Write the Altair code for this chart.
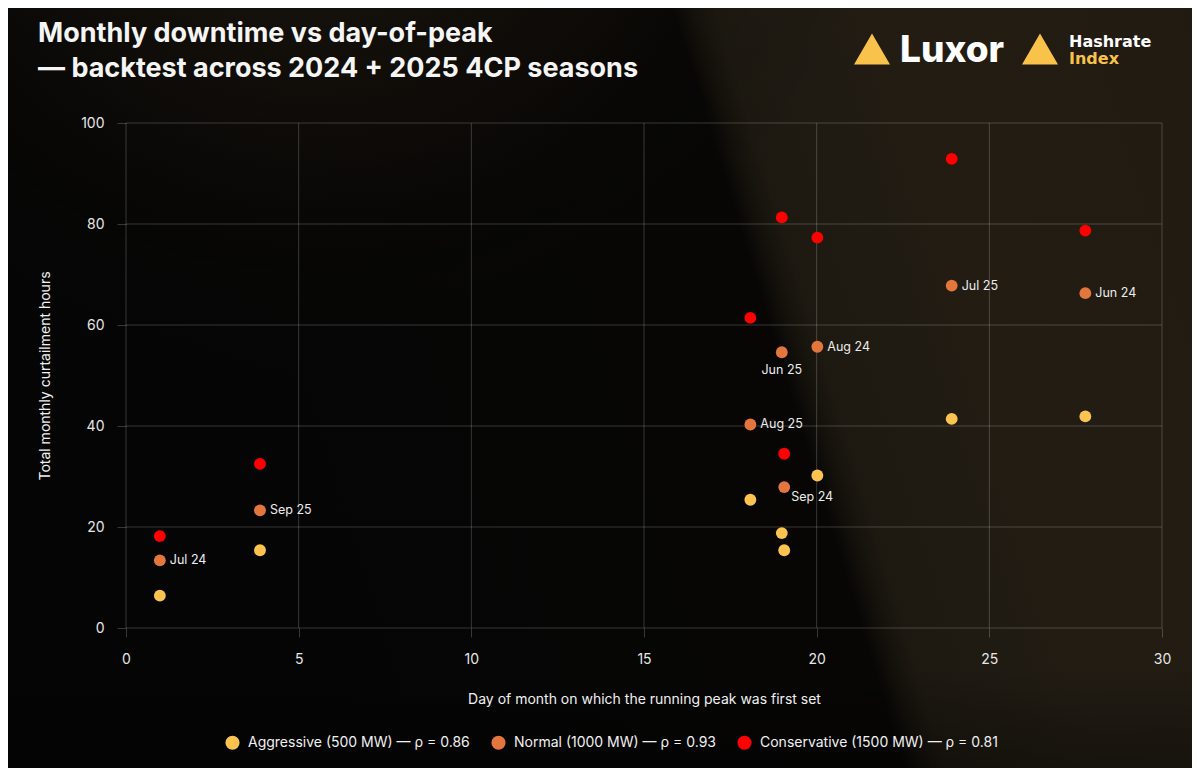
import altair as alt
import pandas as pd

# ---------------- data ----------------
months = ["Jun 24", "Jul 24", "Aug 24", "Sep 24", "Jun 25", "Jul 25", "Aug 25", "Sep 25"]
peak_day = [27.78, 0.98, 20.02, 19.06, 18.99, 23.91, 18.08, 3.88]
aggressive = [41.9, 6.4, 30.2, 15.4, 18.8, 41.4, 25.4, 15.4]
normal = [66.3, 13.4, 55.7, 27.9, 54.6, 67.8, 40.3, 23.3]
conservative = [78.7, 18.2, 77.3, 34.5, 81.3, 92.9, 61.4, 32.5]

series_names = [
    "Aggressive (500 MW) — ρ = 0.86",
    "Normal (1000 MW) — ρ = 0.93",
    "Conservative (1500 MW) — ρ = 0.81",
]
series_colors = ["#fcc44e", "#e3763c", "#fe0000"]

x_ticks = [0, 5, 10, 15, 20, 25, 30]
y_ticks = [0, 20, 40, 60, 80, 100]

title_lines = ["Monthly downtime vs day-of-peak", "— backtest across 2024 + 2025 4CP seasons"]
x_title = "Day of month on which the running peak was first set"
y_title = "Total monthly curtailment hours"

rows = []
for name, vals in zip(series_names, [aggressive, normal, conservative]):
    for m, d, v in zip(months, peak_day, vals):
        rows.append({"month": m, "day": d, "hours": v, "series": name})
df = pd.DataFrame(rows)
labels_df = df[df["series"] == series_names[1]]

W, H = 1036, 505
FONT = "Inter"
GRID = "rgba(255,255,255,0.2)"

xs = alt.Scale(domain=[0, 30], nice=False)
ys = alt.Scale(domain=[0, 100], nice=False)
one = pd.DataFrame({"k": [0]})

x_axis = alt.Axis(
    values=x_ticks, grid=False, domain=False, ticks=True, tickSize=9, tickColor=GRID,
    labelColor="#e6e6e6", labelFontSize=14, labelFont=FONT, labelPadding=15, labelFlush=False,
    title=x_title, titleColor="#f0f0f0", titleFontSize=14, titleFont=FONT, titleFontWeight="normal",
    titleX=W / 2, titleY=71, titleBaseline="middle", titleAlign="center", zindex=1,
)
y_axis = alt.Axis(
    values=y_ticks, grid=False, domain=False, ticks=True, tickSize=9, tickColor=GRID,
    labelColor="#e6e6e6", labelFontSize=14, labelFont=FONT, labelPadding=13, labelFlush=False,
    title=y_title, titleColor="#f0f0f0", titleFontSize=14, titleFont=FONT, titleFontWeight="normal",
    titleX=-81, titleY=H / 2, titleAngle=-90, titleBaseline="middle", titleAlign="center", zindex=1,
)

# ---------------- background ----------------
FULL = dict(x=alt.value(-120), x2=alt.value(1070), y=alt.value(-117), y2=alt.value(650))
bg = alt.Chart(one).mark_rect(
    fill=alt.LinearGradient(
        gradient="linear",
        x1=0.183, y1=0.596, x2=1.163, y2=0.404,
        stops=[
            alt.GradientStop(color="#050505", offset=0),
            alt.GradientStop(color="#070605", offset=0.485),
            alt.GradientStop(color="#13100b", offset=0.5),
            alt.GradientStop(color="#1d1911", offset=0.52),
            alt.GradientStop(color="#221c13", offset=0.65),
            alt.GradientStop(color="#211b12", offset=0.9),
            alt.GradientStop(color="#17120b", offset=1),
        ],
    )
).encode(**FULL)

glow = alt.Chart(one).mark_rect(
    fill=alt.RadialGradient(
        gradient="radial",
        x1=0.25, y1=0.0, r1=0, x2=0.25, y2=0.0, r2=0.5,
        stops=[
            alt.GradientStop(color="rgba(90,70,40,0.4)", offset=0),
            alt.GradientStop(color="rgba(40,30,18,0.2)", offset=0.6),
            alt.GradientStop(color="rgba(0,0,0,0)", offset=1),
        ],
    )
).encode(**FULL)

shade = alt.Chart(one).mark_rect(
    fill=alt.LinearGradient(
        gradient="linear",
        x1=0, y1=0, x2=0, y2=1,
        stops=[
            alt.GradientStop(color="rgba(0,0,0,0)", offset=0),
            alt.GradientStop(color="rgba(0,0,0,0)", offset=0.86),
            alt.GradientStop(color="rgba(0,0,0,0.35)", offset=1),
        ],
    )
).encode(**FULL)

# ---------------- grid ----------------
vgrid = alt.Chart(pd.DataFrame({"v": x_ticks})).mark_rule(color=GRID, strokeWidth=1).encode(
    x=alt.X("v:Q", scale=xs, axis=x_axis), y=alt.value(0), y2=alt.value(H)
)
hgrid = alt.Chart(pd.DataFrame({"v": y_ticks})).mark_rule(color=GRID, strokeWidth=1).encode(
    y=alt.Y("v:Q", scale=ys, axis=y_axis), x=alt.value(0), x2=alt.value(W)
)

# ---------------- points ----------------
points = alt.Chart(df).mark_circle(size=140, opacity=1).encode(
    x=alt.X("day:Q", scale=xs, axis=x_axis),
    y=alt.Y("hours:Q", scale=ys, axis=y_axis),
    color=alt.Color(
        "series:N",
        scale=alt.Scale(domain=series_names, range=series_colors),
        sort=series_names,
        legend=alt.Legend(
            orient="none", legendX=99, legendY=612, direction="horizontal", title=None,
            symbolType="circle", symbolSize=200, symbolStrokeWidth=0, symbolOpacity=1,
            labelFontSize=14, labelColor="#f0f0f0", labelFont=FONT, labelLimit=400,
            labelOffset=8, columnPadding=21, padding=0, zindex=1,
        ),
    ),
)

# ---------------- point labels ----------------
lab_style = dict(font=FONT, fontSize=12.5, color="#ececec")
enc = dict(
    x=alt.X("day:Q", scale=xs, axis=x_axis),
    y=alt.Y("hours:Q", scale=ys, axis=y_axis),
    text="month:N",
)
right_lab = alt.Chart(labels_df).transform_filter(
    "datum.month != 'Jun 25' && datum.month != 'Sep 24'"
).mark_text(align="left", baseline="middle", dx=10, **lab_style).encode(**enc)
below_lab = alt.Chart(labels_df).transform_filter("datum.month == 'Jun 25'").mark_text(
    align="center", baseline="middle", dy=18, **lab_style
).encode(**enc)
below_right_lab = alt.Chart(labels_df).transform_filter("datum.month == 'Sep 24'").mark_text(
    align="left", baseline="middle", dx=7, dy=10, **lab_style
).encode(**enc)

# ---------------- title ----------------
t_style = dict(font=FONT, fontSize=27, fontWeight=700, color="#f5f5f5", align="left", baseline="alphabetic")
title1 = alt.Chart(one).mark_text(text=title_lines[0], **t_style).encode(x=alt.value(-88), y=alt.value(-81.5))
title2 = alt.Chart(one).mark_text(text=title_lines[1], **t_style).encode(x=alt.value(-88), y=alt.value(-46.5))

# ---------------- logos ----------------
YEL = "#f8c24b"
tri1 = alt.Chart(one).mark_point(shape="triangle-up", filled=True, fill=YEL, size=1296, opacity=1, strokeWidth=0).encode(
    x=alt.value(746), y=alt.value(-74))
tri2 = alt.Chart(one).mark_point(shape="triangle-up", filled=True, fill=YEL, size=1296, opacity=1, strokeWidth=0).encode(
    x=alt.value(914), y=alt.value(-74))
luxor = alt.Chart(one).mark_text(text="Luxor", font=FONT, fontSize=37, fontWeight=800, color="#ffffff",
                                 align="left", baseline="alphabetic").encode(x=alt.value(774), y=alt.value(-61))
hashrate = alt.Chart(one).mark_text(text="Hashrate", font="DejaVu Sans", fontSize=16, fontWeight="bold",
                                    color="#ffffff", align="left", baseline="alphabetic").encode(
    x=alt.value(943), y=alt.value(-76))
index_t = alt.Chart(one).mark_text(text="Index", font="DejaVu Sans", fontSize=16, fontWeight="bold", color=YEL,
                                   align="left", baseline="alphabetic").encode(x=alt.value(943), y=alt.value(-59))

chart = alt.layer(
    bg, glow, shade, vgrid, hgrid, points, right_lab, below_lab, below_right_lab,
    title1, title2, tri1, tri2, luxor, hashrate, index_t,
).properties(
    width=W, height=H,
    autosize=alt.AutoSizeParams(type="none"),
    padding={"left": 118, "top": 115, "right": 30, "bottom": 140},
    background="#050505",
).configure_view(strokeOpacity=0)

chart.save("out.html", embed_options={"renderer": "svg", "actions": False})
